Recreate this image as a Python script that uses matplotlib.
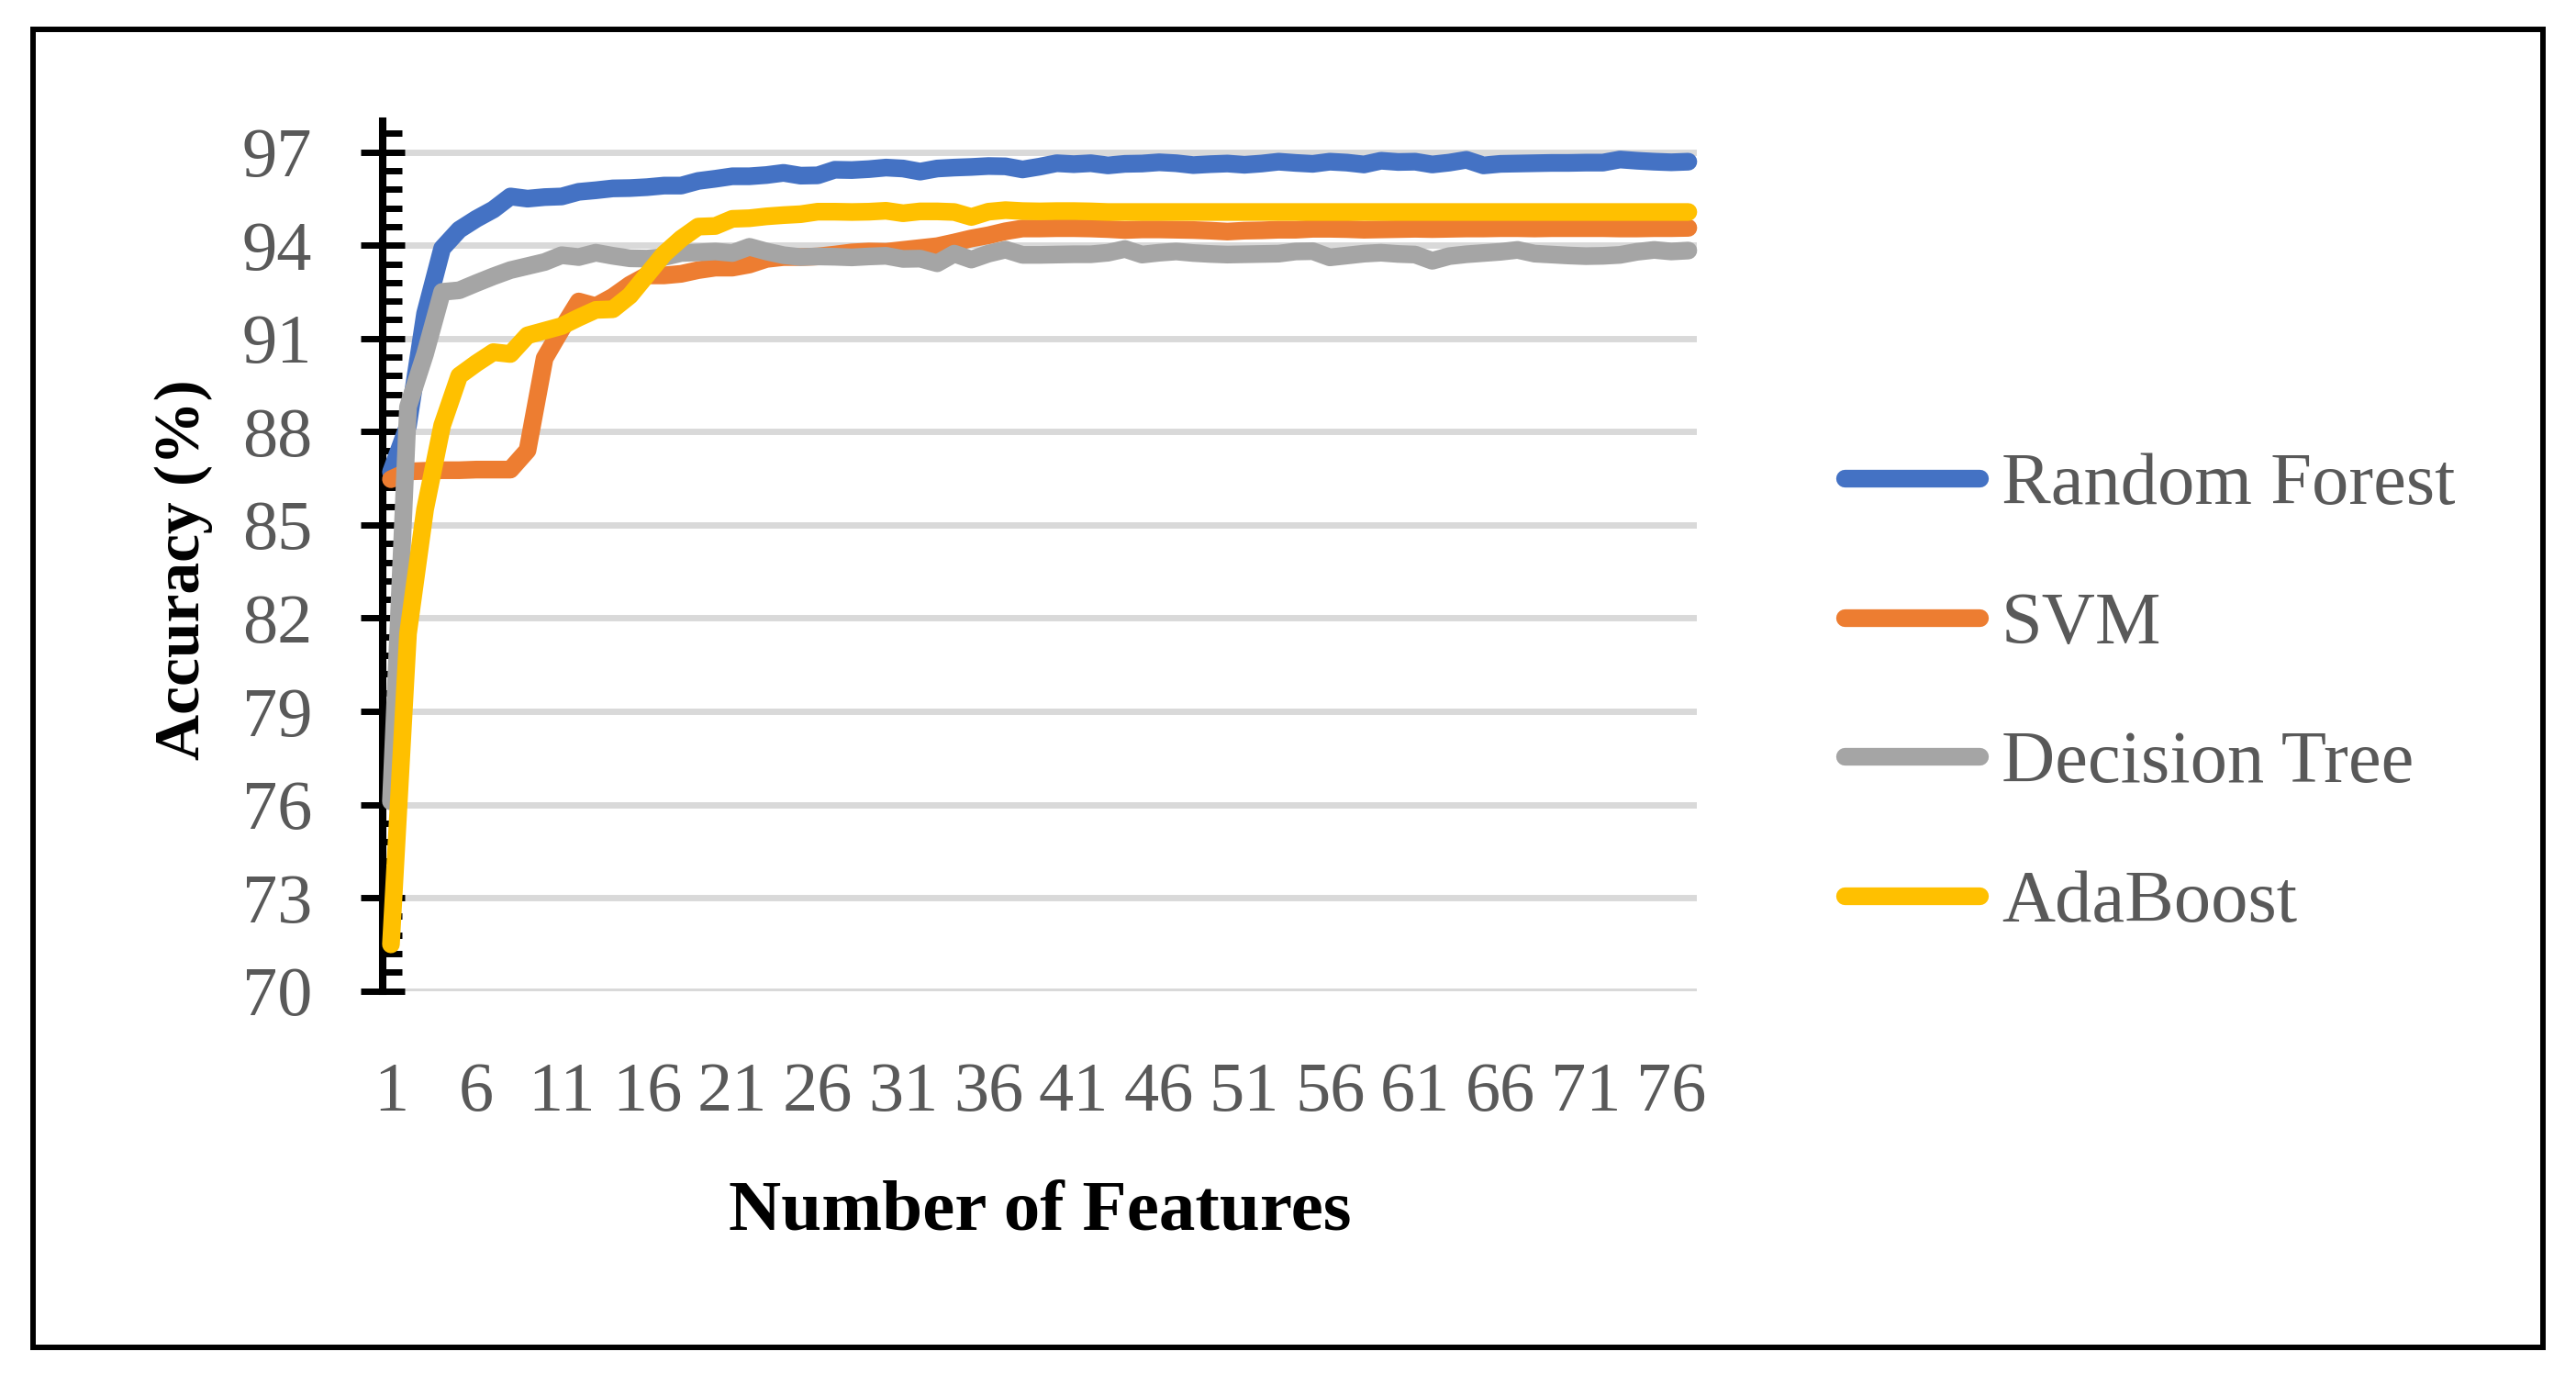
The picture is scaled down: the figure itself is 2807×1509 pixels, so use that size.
import numpy as np
import matplotlib
matplotlib.use("Agg")
import matplotlib.pyplot as plt
from matplotlib.patches import Rectangle
from matplotlib.ticker import FixedLocator

plt.rcParams['font.family'] = ['Liberation Serif', 'DejaVu Serif']

# ---------------- data ----------------
features = list(range(1, 78))

random_forest = [
    86.70, 88.20, 91.80, 93.90, 94.50, 94.85, 95.15, 95.57, 95.50, 95.55,
    95.57, 95.72, 95.77, 95.83, 95.84, 95.87, 95.92, 95.92, 96.07, 96.14,
    96.22, 96.22, 96.26, 96.33, 96.24, 96.25, 96.43, 96.42, 96.45, 96.50,
    96.47, 96.37, 96.47, 96.50, 96.52, 96.55, 96.54, 96.44, 96.53, 96.64,
    96.61, 96.64, 96.57, 96.62, 96.63, 96.67, 96.64, 96.58, 96.61, 96.63,
    96.59, 96.63, 96.69, 96.65, 96.62, 96.69, 96.66, 96.60, 96.72, 96.68,
    96.69, 96.60, 96.66, 96.75, 96.57, 96.62, 96.63, 96.64, 96.65, 96.65,
    96.66, 96.66, 96.76, 96.72, 96.69, 96.67, 96.69]

svm = [
    86.47, 86.72, 86.74, 86.76, 86.76, 86.78, 86.78, 86.78, 87.40, 90.36,
    91.30, 92.19, 92.04, 92.34, 92.73, 93.03, 93.03, 93.08, 93.20, 93.28,
    93.28, 93.38, 93.56, 93.62, 93.62, 93.64, 93.70, 93.77, 93.80, 93.79,
    93.85, 93.91, 93.97, 94.09, 94.22, 94.32, 94.45, 94.54, 94.54, 94.55,
    94.55, 94.54, 94.52, 94.49, 94.51, 94.51, 94.50, 94.49, 94.47, 94.44,
    94.47, 94.48, 94.50, 94.50, 94.53, 94.53, 94.52, 94.50, 94.51, 94.52,
    94.53, 94.52, 94.53, 94.54, 94.54, 94.55, 94.55, 94.54, 94.55, 94.55,
    94.55, 94.55, 94.54, 94.54, 94.55, 94.55, 94.56]

decision_tree = [
    76.10, 88.80, 90.50, 92.50, 92.55, 92.78, 93.00, 93.20, 93.33, 93.46,
    93.68, 93.62, 93.76, 93.66, 93.58, 93.57, 93.62, 93.75, 93.77, 93.80,
    93.75, 93.95, 93.80, 93.68, 93.62, 93.64, 93.63, 93.61, 93.64, 93.66,
    93.56, 93.57, 93.42, 93.73, 93.54, 93.73, 93.86, 93.69, 93.69, 93.70,
    93.71, 93.71, 93.76, 93.88, 93.70, 93.76, 93.80, 93.75, 93.72, 93.70,
    93.71, 93.72, 93.73, 93.80, 93.81, 93.61, 93.67, 93.73, 93.76, 93.72,
    93.70, 93.50, 93.65, 93.71, 93.75, 93.79, 93.85, 93.73, 93.70, 93.67,
    93.65, 93.66, 93.69, 93.79, 93.85, 93.80, 93.83]

adaboost = [
    71.50, 81.50, 85.50, 88.20, 89.80, 90.20, 90.56, 90.50, 91.10, 91.25,
    91.40, 91.67, 91.92, 91.94, 92.38, 93.05, 93.72, 94.21, 94.60, 94.62,
    94.85, 94.87, 94.93, 94.97, 95.00, 95.08, 95.08, 95.07, 95.08, 95.11,
    95.03, 95.09, 95.09, 95.07, 94.91, 95.08, 95.13, 95.10, 95.09, 95.10,
    95.10, 95.09, 95.07, 95.07, 95.07, 95.07, 95.07, 95.07, 95.07, 95.07,
    95.07, 95.07, 95.07, 95.07, 95.07, 95.07, 95.07, 95.07, 95.07, 95.07,
    95.07, 95.07, 95.07, 95.07, 95.07, 95.07, 95.07, 95.07, 95.07, 95.07,
    95.07, 95.07, 95.07, 95.07, 95.07, 95.07, 95.07]

series_names = ["Random Forest", "SVM", "Decision Tree", "AdaBoost"]
series_values = [random_forest, svm, decision_tree, adaboost]
series_colors = ["#4472C4", "#ED7D31", "#A5A5A5", "#FFC000"]

y_ticks = [70, 73, 76, 79, 82, 85, 88, 91, 94, 97]
x_tick_labels = ["1", "6", "11", "16", "21", "26", "31", "36", "41", "46",
                 "51", "56", "61", "66", "71", "76"]

# ---------------- figure ----------------
W, H = 2807, 1509
fig = plt.figure(figsize=(W / 100, H / 100), dpi=100)

def fx(px):
    return px / W

def fy(py):
    return (H - py) / H

ax_left, ax_right = 416.7, 1849
ax_top, ax_bot = 131.8, 1079.7
ax = fig.add_axes([fx(ax_left), fy(ax_bot), fx(ax_right) - fx(ax_left),
                   fy(ax_top) - fy(ax_bot)])

handles = []
for name, vals, col in zip(series_names, series_values, series_colors):
    ln, = ax.plot(features, vals, color=col, lw=13.9, label=name,
                  solid_capstyle='round', solid_joinstyle='round',
                  zorder=3, clip_on=False)
    handles.append(ln)

ax.set_xlim(0.5, 77.5)
ax.set_ylim(70, 98)

ax.set_yticks(y_ticks)
ax.set_yticklabels([str(v) for v in y_ticks])
ax.yaxis.set_minor_locator(FixedLocator(np.arange(70, 98.01, 0.6)))

ax.set_xticks([int(s) for s in x_tick_labels])
ax.set_xticklabels(x_tick_labels)

ax.yaxis.grid(True, which='major', color='#D9D9D9', lw=5)
ax.set_axisbelow(True)

for s in ['top', 'right', 'bottom']:
    ax.spines[s].set_visible(False)
ax.spines['left'].set_linewidth(5.8)
ax.spines['left'].set_color('black')

ax.tick_params(axis='y', which='major', direction='inout', length=34,
               width=5, color='black', labelsize=55, labelcolor='#595959',
               pad=38)
ax.tick_params(axis='y', which='minor', direction='in', length=15,
               width=5, color='black')
ax.tick_params(axis='x', which='both', length=0, labelsize=55,
               labelcolor='#595959', pad=56)

fig.text(fx(1133), fy(1340), "Number of Features", ha='center',
         va='baseline', fontsize=57, fontweight='bold', color='black')
fig.text(fx(200), fy(621), "Accuracy (%)", ha='center', va='center',
         rotation=90, fontsize=50, fontweight='bold', color='black')

leg = ax.legend(handles=handles, loc='center left',
                bbox_to_anchor=(fx(2010), fy(757)),
                bbox_transform=fig.transFigure, frameon=False, fontsize=58,
                handlelength=1.82, handletextpad=0.3, labelspacing=0.97,
                borderpad=0, borderaxespad=0, labelcolor='#595959')

frame = Rectangle((fx(36), fy(1468)), fx(2771) - fx(36), fy(32) - fy(1468),
                  transform=fig.transFigure, fill=False, ec='black', lw=4.3)
fig.add_artist(frame)

fig.savefig("out.png", dpi=100, facecolor='white')
